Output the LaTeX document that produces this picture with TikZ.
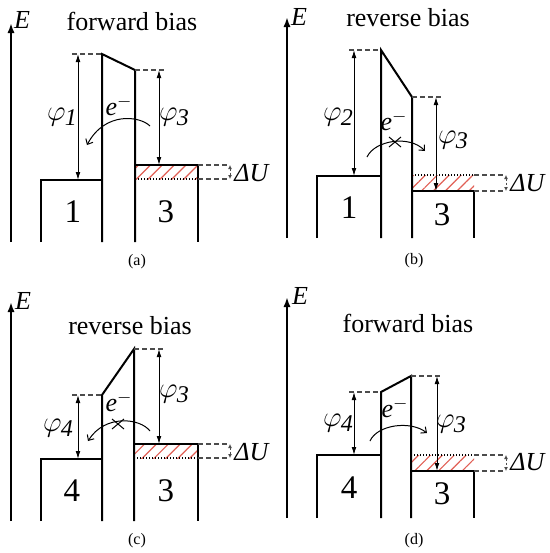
\documentclass[tikz,border=0pt]{standalone}
\usepackage{fontspec}
\setmainfont{Liberation Serif}
\usetikzlibrary{arrows.meta,patterns.meta}
\definecolor{hatchred}{RGB}{225,95,85}
\newcommand{\phisub}[1]{{\fontsize{15}{17}\selectfont$\varphi$}\kern-0.3pt\raisebox{-2.5pt}{\fontsize{12}{14}\selectfont\textit{#1}}}
\tikzset{
 thickline/.style={line width=1pt, line join=miter},
 dashlevel/.style={line width=0.6pt, draw=black!70, dash pattern=on 2.5pt off 1.5pt},
 phiarrow/.style={line width=0.5pt, {Latex[length=4pt,width=2.4pt]}-{Latex[length=4pt,width=2.4pt]}},
 eaxis/.style={line width=1pt, -{Latex[length=5pt,width=3.6pt]}},
 hopping/.style={line width=0.5pt, -{Straight Barb[length=2.2pt,width=4pt]}},
 hatchbox/.style={pattern={Lines[angle=45,distance=4.2pt,line width=0.6pt]}, pattern color=hatchred},
 dottedline/.style={line width=0.6pt, dash pattern=on 0.6pt off 0.9pt},
 ttl/.style={font=\fontsize{13}{15}\selectfont, inner sep=0pt},
 lbl/.style={font=\fontsize{13}{15}\selectfont, inner sep=0pt},
 digit/.style={font=\fontsize{16.5}{18}\selectfont, inner sep=0pt},
 capt/.style={font=\fontsize{8}{10}\selectfont, inner sep=0pt},
 du/.style={line width=0.5pt, draw=black!70, dash pattern=on 1.2pt off 0.8pt, {Latex[length=2pt,width=2pt]}-{Latex[length=2pt,width=2pt]}},
 cross/.style={line width=0.5pt},
}
\begin{document}
\begin{tikzpicture}[x=0.5pt,y=-0.5pt]
\useasboundingbox (0,0) rectangle (550,553);
% ================= panel (a) =================
\fill[hatchbox] (135,165) rectangle (198,179);
\draw[dottedline] (135,179) -- (198,179);
\coordinate (aAxB) at (11,242); \coordinate (aAxT) at (11,23);
\draw[eaxis] (aAxB) -- (aAxT);
\node[lbl] (aE) at (22,20) {\textit{E}};
\node[ttl] (aT) at (132,21) {forward bias};
\draw[thickline] (41,242) -- (41,180) -- (102,180);
\draw[thickline] (102,242) -- (102,54) -- (135,70) -- (135,242);
\draw[thickline] (135,165) -- (198,165) -- (198,242);
\draw[dashlevel] (72,54) -- (102,54);
\draw[dashlevel] (135,70) -- (166,70);
\draw[dashlevel] (198,165) -- (230,165);
\draw[dashlevel] (198,179) -- (230,179);
\coordinate (aU1) at (230,165); \coordinate (aU2) at (230,179);
\draw[du] (aU1) -- (aU2);
\coordinate (aP1t) at (78,54); \coordinate (aP1b) at (78,180);
\draw[phiarrow] (aP1t) -- (aP1b);
\coordinate (aP3t) at (159,70); \coordinate (aP3b) at (159,165);
\draw[phiarrow] (aP3t) -- (aP3b);
\node[lbl] (aphi1) at (62,117) {\phisub{1}};
\node[lbl] (aphi3) at (174,117) {\phisub{3}};
\node[lbl] (ae) at (119,106) {\textit{e}$^{-}$};
\coordinate (aS) at (150,126); \coordinate (aEnd) at (87,145);
\draw[hopping] (aS) .. controls (140,116) and (105,111) .. (aEnd);
\node[lbl] (adu) at (252,173) {\textit{ΔU}};
\node[digit] (a1) at (73,212) {1};
\node[digit] (a3) at (166,212) {3};
\node[capt] (acap) at (137,262) {(a)};
% ================= panel (b) =================
\fill[hatchbox] (412,175) rectangle (474,191);
\draw[dottedline] (412,175) -- (474,175);
\coordinate (bAxB) at (287,238); \coordinate (bAxT) at (287,17);
\draw[eaxis] (bAxB) -- (bAxT);
\node[lbl] (bE) at (299,17) {\textit{E}};
\node[ttl] (bT) at (408,18) {reverse bias};
\draw[thickline] (317,238) -- (317,176) -- (381,176);
\draw[thickline] (381,238) -- (381,50) -- (412,97) -- (412,238);
\draw[thickline] (412,191) -- (474,191) -- (474,238);
\draw[dashlevel] (349,50) -- (381,50);
\draw[dashlevel] (412,97) -- (443,97);
\draw[dashlevel] (474,175) -- (506,175);
\draw[dashlevel] (474,191) -- (506,191);
\coordinate (bU1) at (506,175); \coordinate (bU2) at (506,191);
\draw[du] (bU1) -- (bU2);
\coordinate (bP2t) at (354,50); \coordinate (bP2b) at (354,176);
\draw[phiarrow] (bP2t) -- (bP2b);
\coordinate (bP3t) at (436,97); \coordinate (bP3b) at (436,191);
\draw[phiarrow] (bP3t) -- (bP3b);
\node[lbl] (bphi2) at (338,117) {\phisub{2}};
\node[lbl] (bphi3) at (453,140) {\phisub{3}};
\node[lbl] (be) at (394,121) {\textit{e}$^{-}$};
\coordinate (bS) at (367,157); \coordinate (bEnd) at (425,151);
\draw[hopping] (bS) .. controls (375,140) and (410,135) .. (bEnd);
\draw[cross] (389,137) -- (401,147);
\draw[cross] (389,147) -- (401,137);
\node[lbl] (bdu) at (528,183) {\textit{ΔU}};
\node[digit] (b1) at (349,208) {1};
\node[digit] (b3) at (442,215) {3};
\node[capt] (bcap) at (414,261) {(b)};
% ================= panel (c) =================
\fill[hatchbox] (134,444) rectangle (198,458);
\draw[dottedline] (134,458) -- (198,458);
\coordinate (cAxB) at (11,521); \coordinate (cAxT) at (11,302);
\draw[eaxis] (cAxB) -- (cAxT);
\node[lbl] (cE) at (23,301) {\textit{E}};
\node[ttl] (cT) at (130,326) {reverse bias};
\draw[thickline] (41,521) -- (41,459) -- (102,459);
\draw[thickline] (102,521) -- (102,395) -- (134,349) -- (134,521);
\draw[thickline] (134,444) -- (198,444) -- (198,521);
\draw[dashlevel] (72,395) -- (102,395);
\draw[dashlevel] (134,349) -- (166,349);
\draw[dashlevel] (198,444) -- (230,444);
\draw[dashlevel] (198,458) -- (230,458);
\coordinate (cU1) at (230,444); \coordinate (cU2) at (230,458);
\draw[du] (cU1) -- (cU2);
\coordinate (cP4t) at (78,395); \coordinate (cP4b) at (78,459);
\draw[phiarrow] (cP4t) -- (cP4b);
\coordinate (cP3t) at (159,349); \coordinate (cP3b) at (159,444);
\draw[phiarrow] (cP3t) -- (cP3b);
\node[lbl] (cphi4) at (58,428) {\phisub{4}};
\node[lbl] (cphi3) at (174,394) {\phisub{3}};
\node[lbl] (ce) at (119,402) {\textit{e}$^{-}$};
\coordinate (cS) at (150,431); \coordinate (cEnd) at (88,441);
\draw[hopping] (cS) .. controls (140,418) and (105,414) .. (cEnd);
\draw[cross] (112,419) -- (124,429);
\draw[cross] (112,429) -- (124,419);
\node[lbl] (cdu) at (252,452) {\textit{ΔU}};
\node[digit] (c4) at (72,491) {4};
\node[digit] (c3) at (166,491) {3};
\node[capt] (ccap) at (137,541) {(c)};
% ================= panel (d) =================
\fill[hatchbox] (411,455) rectangle (474,471);
\draw[dottedline] (411,455) -- (474,455);
\coordinate (dAxB) at (287,518); \coordinate (dAxT) at (287,297);
\draw[eaxis] (dAxB) -- (dAxT);
\node[lbl] (dE) at (300,296) {\textit{E}};
\node[ttl] (dT) at (408,323) {forward bias};
\draw[thickline] (317,518) -- (317,455) -- (381,455);
\draw[thickline] (381,518) -- (381,392) -- (411,376) -- (411,518);
\draw[thickline] (411,471) -- (474,471) -- (474,518);
\draw[dashlevel] (349,392) -- (381,392);
\draw[dashlevel] (411,376) -- (442,376);
\draw[dashlevel] (474,455) -- (506,455);
\draw[dashlevel] (474,471) -- (506,471);
\coordinate (dU1) at (506,455); \coordinate (dU2) at (506,471);
\draw[du] (dU1) -- (dU2);
\coordinate (dP4t) at (354,392); \coordinate (dP4b) at (354,455);
\draw[phiarrow] (dP4t) -- (dP4b);
\coordinate (dP3t) at (437,376); \coordinate (dP3b) at (437,471);
\draw[phiarrow] (dP3t) -- (dP3b);
\node[lbl] (dphi4) at (338,423) {\phisub{4}};
\node[lbl] (dphi3) at (451,424) {\phisub{3}};
\node[lbl] (de) at (395,408) {\textit{e}$^{-}$};
\coordinate (dS) at (370,441); \coordinate (dEnd) at (427,433);
\draw[hopping] (dS) .. controls (377,425) and (410,420) .. (dEnd);
\node[lbl] (ddu) at (528,462) {\textit{ΔU}};
\node[digit] (d4) at (349,488) {4};
\node[digit] (d3) at (442,494) {3};
\node[capt] (dcap) at (414,541) {(d)};
\end{tikzpicture}
\end{document}
